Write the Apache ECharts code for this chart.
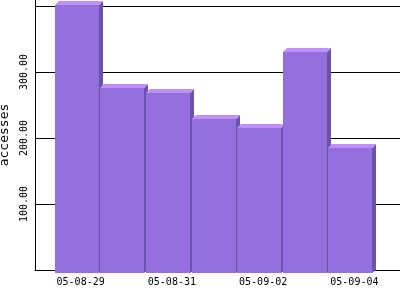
<!DOCTYPE html>
<html>
<head>
<meta charset="utf-8">
<script src="https://cdn.jsdelivr.net/npm/echarts@6/dist/echarts.min.js"></script>
<style>html,body{margin:0;padding:0;background:#fff}#c{width:400px;height:300px}</style>
</head>
<body>
<div id="c"></div>
<script>
const categories = ['05-08-29','05-08-30','05-08-31','05-09-01','05-09-02','05-09-03','05-09-04'];
const accesses = [408, 282, 274, 235, 221, 336, 191];
const yTickValues = [100, 200, 300];
const yAxisName = 'accesses';

const padded = [''].concat(categories, ['']);
const DEPTH = 4;
const chart = echarts.init(document.getElementById('c'), null, {renderer: 'canvas'});
chart.setOption({
  animation: false,
  backgroundColor: '#fff',
  grid: {left: 35, right: 0, top: 0, bottom: 30, containLabel: false, outerBoundsMode: 'none'},
  xAxis: {
    type: 'category',
    data: padded,
    boundaryGap: false,
    z: 0,
    axisLine: {show: true, lineStyle: {color: '#000', width: 1}},
    axisTick: {show: false},
    splitLine: {show: false},
    axisLabel: {
      interval: (idx) => idx % 2 === 1,
      margin: 7,
      fontFamily: 'DejaVu Sans Mono',
      fontSize: 10,
      color: '#000'
    }
  },
  yAxis: {
    type: 'value',
    min: 0,
    max: 409.09,
    interval: 100,
    z: 0,
    name: yAxisName,
    nameLocation: 'middle',
    nameGap: 16,
    nameRotate: 90,
    nameTextStyle: {fontFamily: 'DejaVu Sans Mono', fontSize: 13, color: '#000'},
    axisLine: {show: true, lineStyle: {color: '#000', width: 1}},
    axisTick: {show: false},
    splitLine: {show: true, showMaxLine: false, lineStyle: {color: '#000', width: 1}},
    axisLabel: {
      rotate: 90,
      margin: 6,
      fontFamily: 'DejaVu Sans Mono',
      fontSize: 10,
      color: '#000',
      formatter: (v) => yTickValues.indexOf(v) >= 0 ? v.toFixed(2) : ''
    }
  },
  series: [{
    type: 'custom',
    data: accesses.map((v, i) => [i + 1, v]),
    encode: {x: 0, y: 1},
    z: 10,
    clip: false,
    renderItem: function (params, api) {
      const xi = api.value(0), v = api.value(1);
      const base = api.coord([xi, 0]);
      const top = api.coord([xi, v]);
      const band = api.coord([xi + 1, 0])[0] - api.coord([xi, 0])[0];
      const w = Math.round(band - 1.5);
      const d = DEPTH;
      const bx0 = Math.round(base[0] - w / 2);
      const bx1 = bx0 + w;
      const ty = Math.round(top[1]);
      const by = Math.round(base[1]);
      const fx0 = bx0 - d, fx1 = bx1 - d;
      const fTop = ty + d, fBot = by + 3;
      return {
        type: 'group',
        children: [
          {type: 'polygon', shape: {points: [[fx1, fTop], [bx1, ty], [bx1, by], [fx1, fBot]]},
            style: {fill: '#6B52AA'}},
          {type: 'polygon', shape: {points: [[fx0, fTop], [bx0, ty], [bx1, ty], [fx1, fTop]]},
            style: {fill: '#BF90FA'}},
          {type: 'rect', shape: {x: fx0, y: fTop, width: w, height: fBot - fTop},
            style: {fill: '#9370DB'}}
        ]
      };
    }
  }]
});
</script>
</body>
</html>
